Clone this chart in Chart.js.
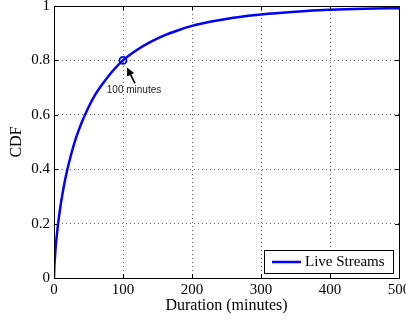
<!DOCTYPE html>
<html>
<head>
<meta charset="utf-8">
<script src="https://cdn.jsdelivr.net/npm/chart.js@4/dist/chart.umd.min.js"></script>
<style>
  html, body { margin: 0; padding: 0; background: #fff; }
  #wrap { width: 406px; height: 322px; }
</style>
</head>
<body>
<div id="wrap"><canvas id="myChart" width="406" height="322"></canvas></div>
<script>
"use strict";

// duration in minutes and the CDF
const durations = [0, 0.5, 1, 2, 3, 5, 7, 10, 14, 19, 25, 32, 40, 50, 60, 70, 85, 100,
  120, 140, 160, 180, 200, 230, 260, 300, 350, 400, 450, 500];
const cdfValues = [0, 0.039, 0.062, 0.099, 0.129, 0.179, 0.221, 0.275, 0.334, 0.395, 0.456, 0.516,
  0.571, 0.628, 0.675, 0.712, 0.761, 0.8, 0.838, 0.868, 0.892, 0.911, 0.927, 0.944, 0.957,
  0.969, 0.979, 0.986, 0.99, 0.992];
const xTicks = [0, 100, 200, 300, 400, 500];
const yTicks = [0, 0.2, 0.4, 0.6, 0.8, 1];
const seriesName = "Live Streams";
const markedDuration = [100];
const markedCdf = [0.8];
const markText = "100 minutes";

const lineBlue = "#0000ff";
const serif = "'Liberation Serif', 'DejaVu Serif', serif";

const framePlugin = {
  id: "frame",
  afterDraw(chart) {
    const { ctx, chartArea: a, scales } = chart;
    ctx.save();
    // box round the plot
    ctx.strokeStyle = "#000";
    ctx.lineWidth = 1;
    ctx.setLineDash([]);
    ctx.strokeRect(Math.round(a.left) + 0.5, Math.round(a.top) + 0.5,
      Math.round(a.right - a.left), Math.round(a.bottom - a.top));
    // inward ticks
    ctx.beginPath();
    xTicks.forEach((v) => {
      const x = Math.round(scales.x.getPixelForValue(v)) + 0.5;
      ctx.moveTo(x, a.bottom); ctx.lineTo(x, a.bottom - 4);
      ctx.moveTo(x, a.top); ctx.lineTo(x, a.top + 4);
    });
    yTicks.forEach((v) => {
      const y = Math.round(scales.y.getPixelForValue(v)) + 0.5;
      ctx.moveTo(a.left, y); ctx.lineTo(a.left + 4, y);
      ctx.moveTo(a.right, y); ctx.lineTo(a.right - 4, y);
    });
    ctx.stroke();

    // arrow and note at the marked point
    const px = scales.x.getPixelForValue(markedDuration[0]);
    const py = scales.y.getPixelForValue(markedCdf[0]);
    const tipX = px + 4, tipY = py + 7;
    const tailX = px + 12, tailY = py + 23;
    const ang = Math.atan2(tipY - tailY, tipX - tailX);
    ctx.strokeStyle = "#000";
    ctx.fillStyle = "#000";
    ctx.lineWidth = 1.6;
    ctx.beginPath();
    ctx.moveTo(tailX, tailY);
    ctx.lineTo(tipX + 5 * Math.cos(ang + Math.PI), tipY + 5 * Math.sin(ang + Math.PI));
    ctx.stroke();
    ctx.beginPath();
    ctx.moveTo(tipX, tipY);
    ctx.lineTo(tipX - 9 * Math.cos(ang - 0.45), tipY - 9 * Math.sin(ang - 0.45));
    ctx.lineTo(tipX - 9 * Math.cos(ang + 0.45), tipY - 9 * Math.sin(ang + 0.45));
    ctx.closePath();
    ctx.fill();
    ctx.font = "10px 'Liberation Sans', Arial, sans-serif";
    ctx.textAlign = "center";
    ctx.textBaseline = "middle";
    ctx.fillStyle = "#222";
    ctx.fillText(markText, px + 11, py + 30);

    // legend box in the lower right corner
    const bw = 129, bh = 23;
    const bx = Math.round(a.right) - 6 - bw, by = Math.round(a.bottom) - 5 - bh;
    ctx.fillStyle = "#fff";
    ctx.fillRect(bx, by, bw, bh);
    ctx.lineWidth = 1;
    ctx.strokeStyle = "#000";
    ctx.strokeRect(bx + 0.5, by + 0.5, bw, bh);
    ctx.strokeStyle = lineBlue;
    ctx.lineWidth = 2.5;
    ctx.beginPath();
    ctx.moveTo(bx + 8, by + bh / 2 + 0.5);
    ctx.lineTo(bx + 37, by + bh / 2 + 0.5);
    ctx.stroke();
    ctx.fillStyle = "#000";
    ctx.font = "15px " + serif;
    ctx.textAlign = "left";
    ctx.textBaseline = "middle";
    ctx.fillText(chart.data.datasets[0].label, bx + 41, by + bh / 2 + 1);
    ctx.restore();
  },
};

const config = {
  type: "line",
  data: {
    datasets: [
      {
        label: seriesName,
        data: durations.map((d, i) => ({ x: d, y: cdfValues[i] })),
        borderColor: lineBlue,
        borderWidth: 2.5,
        pointRadius: 0,
        cubicInterpolationMode: "monotone",
        fill: false,
      },
      {
        label: "mark",
        data: markedDuration.map((d, i) => ({ x: d, y: markedCdf[i] })),
        showLine: false,
        pointRadius: 3.5,
        pointBorderWidth: 1.8,
        pointBorderColor: lineBlue,
        pointBackgroundColor: "rgba(0,0,0,0)",
      },
    ],
  },
  options: {
    responsive: false,
    animation: false,
    events: [],
    layout: {
      autoPadding: false,
      padding: { left: 0, right: 7, top: 6, bottom: 0 },
    },
    scales: {
      x: {
        type: "linear",
        min: 0,
        max: 500,
        afterFit: (scale) => {
          scale.height = 44;
          scale.paddingLeft = 0;
          scale.paddingRight = 0;
        },
        afterBuildTicks: (scale) => { scale.ticks = xTicks.map((v) => ({ value: v })); },
        grid: { color: "rgba(0,0,0,0.6)", lineWidth: 1, drawTicks: false },
        border: { display: false, dash: [1, 3] },
        ticks: {
          padding: 3,
          color: "#000",
          maxRotation: 0,
          font: { family: serif, size: 15 },
          callback: (v) => String(v),
        },
        title: {
          display: true,
          text: "Duration (minutes)",
          color: "#000",
          font: { family: serif, size: 16 },
          padding: { top: 0, bottom: 7 },
        },
      },
      y: {
        min: 0,
        max: 1,
        afterFit: (scale) => {
          scale.width = 54;
          scale.paddingTop = 0;
          scale.paddingBottom = 0;
        },
        afterBuildTicks: (scale) => { scale.ticks = yTicks.map((v) => ({ value: v })); },
        grid: { color: "rgba(0,0,0,0.6)", lineWidth: 1, drawTicks: false },
        border: { display: false, dash: [1, 3] },
        ticks: {
          padding: 4,
          color: "#000",
          font: { family: serif, size: 15 },
          callback: (v) => String(v),
        },
        title: {
          display: true,
          text: "CDF",
          color: "#000",
          font: { family: serif, size: 16 },
          padding: { top: 7, bottom: 0 },
        },
      },
    },
    plugins: {
      legend: { display: false },
      tooltip: { enabled: false },
    },
  },
  plugins: [framePlugin],
};

const myChart = new Chart(document.getElementById("myChart"), config);
</script>
</body>
</html>
